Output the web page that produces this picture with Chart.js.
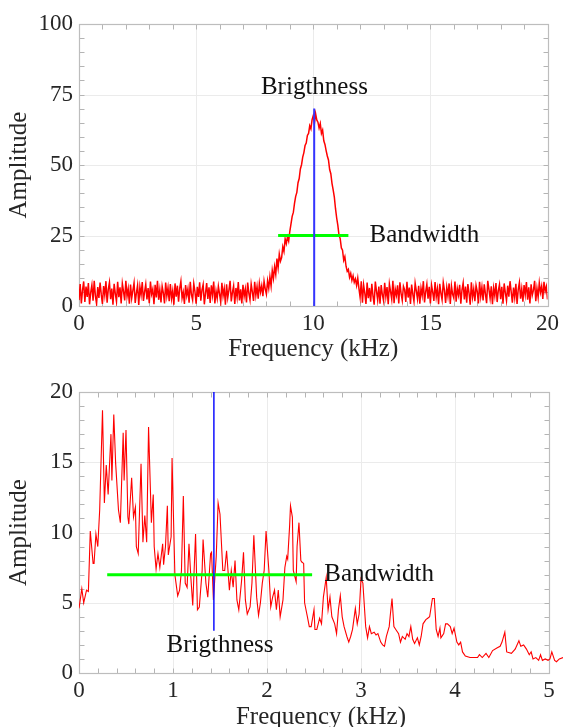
<!DOCTYPE html>
<html><head><meta charset="utf-8">
<script src="https://cdn.jsdelivr.net/npm/chart.js@4.4.1/dist/chart.umd.min.js"></script>
<style>
html,body{margin:0;padding:0;background:#fff;width:563px;height:727px;overflow:hidden;}
#c1{position:absolute;left:0;top:0;}
#c2{position:absolute;left:0;top:365px;}
</style></head><body>
<canvas id="c1" width="563" height="365"></canvas>
<canvas id="c2" width="563" height="380"></canvas>
<script>
// ---------- Top chart data (step 0.05 kHz, 0..20 kHz) ----------
const topStepKHz = 0.05;
const topAmplitude = [
2.1,7.8,0.9,5.6,8.7,1.4,6.9,3.2,8.1,0.6,4.8,7.4,1.9,8.9,3.6,0.8,6.7,2.9,8.3,4.1,
0.7,7.1,3.8,8.8,1.2,5.9,8.4,2.4,6.2,0.5,7.9,4.4,1.6,8.6,3.1,6.6,0.9,8.0,5.2,2.0,
8.9,3.4,6.1,0.8,7.6,2.7,5.5,8.2,1.1,4.6,7.3,0.4,6.8,3.9,8.5,1.8,5.0,7.7,2.3,6.4,
1.0,8.7,4.2,6.0,0.6,7.5,3.0,8.9,2.2,5.8,1.3,7.0,4.7,0.9,8.3,3.5,6.5,1.7,7.8,2.6,
5.4,0.5,8.0,3.3,7.2,1.5,6.3,8.8,2.8,4.9,0.7,7.4,3.7,6.1,1.2,8.6,4.0,2.1,7.9,5.1,
0.8,6.8,3.2,8.4,1.9,5.7,7.6,0.6,4.5,8.1,2.5,6.6,1.1,7.3,3.9,8.7,0.9,5.3,2.7,7.0,
4.3,1.4,8.2,3.6,6.2,0.5,7.7,2.9,5.6,8.9,1.6,4.8,7.1,0.7,6.4,3.1,8.5,2.0,5.9,0.9,
7.5,3.4,6.0,1.3,8.3,4.6,2.2,7.8,5.0,1.8,8.6,3.8,6.9,2.6,8.0,4.9,7.2,3.5,8.8,6.1,
4.2,8.9,6.3,10.4,7.1,12.6,9.8,13.9,11.2,16.8,13.5,18.4,15.9,17.2,21.0,19.3,23.8,22.1,24.5,23.0,
26.5,29.1,31.8,33.2,36.4,38.9,40.3,43.7,45.2,48.6,50.1,52.8,54.4,56.9,57.8,60.5,61.2,63.9,62.8,66.1,
67.5,64.8,68.2,66.0,65.2,63.1,64.7,61.2,62.4,58.6,57.3,55.1,53.2,51.8,48.4,46.9,43.5,41.2,38.6,34.5,
31.2,28.6,25.1,23.9,20.6,19.8,16.2,17.5,14.1,12.3,13.0,10.2,11.6,9.1,10.7,8.4,9.6,7.3,9.9,6.2,
3.1,8.8,1.2,7.5,4.6,0.7,8.3,2.8,6.4,1.5,7.9,3.6,0.5,8.7,5.3,2.1,6.9,0.8,7.4,4.0,
1.9,8.2,3.3,6.7,0.6,7.8,5.1,2.4,8.9,1.0,6.0,3.8,7.3,0.9,8.4,4.4,2.0,7.0,5.8,1.4,
8.6,3.0,6.5,0.7,7.6,4.2,1.6,8.1,5.4,2.5,7.2,0.8,6.3,3.7,8.8,1.3,5.0,7.7,2.6,6.8,
0.9,7.4,4.9,1.8,8.5,3.2,6.1,0.6,7.9,4.5,2.2,8.3,5.6,1.1,6.6,3.5,8.0,0.7,7.1,4.1,
2.8,8.7,1.5,6.2,3.9,7.5,0.8,5.7,8.2,2.3,6.9,1.2,7.8,4.6,0.5,8.4,3.1,6.0,1.7,7.3,
5.2,0.9,8.6,3.4,6.7,2.0,7.7,4.3,1.0,8.9,5.9,2.7,7.0,0.6,6.4,3.6,8.1,1.4,5.5,7.6,
2.4,6.8,0.8,8.0,4.7,1.9,7.2,3.3,8.8,5.0,1.2,6.5,3.0,7.9,0.7,5.8,8.3,2.6,6.1,1.5,
7.4,4.0,8.5,2.2,6.6,0.9,7.7,3.8,5.6,8.9,1.7,6.3,3.1,8.2,4.8,7.0,2.5,8.6,5.2,6.9,2.3
];
const topBrightness = {freq: 10.04, ampLow: 0, ampHigh: 70};
const topBandwidth = {freqLow: 8.5, freqHigh: 11.5, amp: 25};
const topXTicks = [0, 5, 10, 15, 20];
const topYTicks = [0, 25, 50, 75, 100];

// ---------- Bottom chart data ----------
const bottomFreq = [0,0.03,0.05,0.08,0.10,0.12,0.15,0.16,0.18,0.20,0.22,0.25,0.27,0.29,0.31,0.34,0.35,0.37,0.39,0.42,0.44,0.47,0.48,0.50,0.52,0.53,0.56,0.58,0.60,0.61,0.63,0.66,0.68,0.70,0.72,0.74,0.77,0.79,0.80,0.82,0.84,0.86,0.89,0.90,0.92,0.94,0.95,0.98,0.99,1.02,1.05,1.07,1.09,1.11,1.13,1.15,1.17,1.19,1.21,1.24,1.26,1.28,1.31,1.32,1.35,1.37,1.40,1.41,1.43,1.46,1.48,1.50,1.53,1.55,1.57,1.60,1.62,1.64,1.66,1.68,1.70,1.73,1.75,1.77,1.79,1.82,1.84,1.86,1.89,1.91,1.93,1.95,1.97,1.99,2.02,2.04,2.06,2.08,2.10,2.12,2.14,2.17,2.19,2.21,2.22,2.24,2.25,2.27,2.28,2.31,2.32,2.34,2.36,2.37,2.39,2.40,2.43,2.45,2.47,2.50,2.51,2.53,2.56,2.58,2.60,2.63,2.65,2.67,2.69,2.72,2.74,2.76,2.78,2.80,2.82,2.85,2.87,2.89,2.91,2.94,2.96,2.98,3.00,3.02,3.05,3.07,3.09,3.11,3.14,3.16,3.18,3.21,3.23,3.25,3.27,3.30,3.31,3.33,3.35,3.37,3.40,3.42,3.44,3.47,3.49,3.51,3.53,3.55,3.57,3.60,3.62,3.64,3.66,3.69,3.71,3.73,3.76,3.78,3.80,3.82,3.84,3.85,3.88,3.90,3.92,3.95,3.97,3.99,4.02,4.04,4.06,4.08,4.11,4.16,4.24,4.26,4.29,4.33,4.36,4.40,4.45,4.48,4.50,4.53,4.55,4.60,4.64,4.68,4.70,4.73,4.76,4.79,4.81,4.83,4.86,4.89,4.91,4.93,4.96,4.99,5.01,5.03,5.06,5.08,5.11,5.15];
const bottomAmplitude = [4.6,6.0,5.0,5.9,5.8,10.1,7.8,7.8,9.9,9.0,11.6,18.7,12.1,14.8,12.7,17.0,13.7,18.4,14.9,11.6,10.7,17.1,13.7,17.3,11.1,10.6,13.9,11.1,11.8,9.0,8.5,14.9,9.3,11.2,9.3,17.5,10.7,12.7,9.0,7.4,8.5,7.5,9.2,7.7,9.0,11.9,8.4,9.7,15.3,7.0,5.5,5.9,7.3,12.6,6.4,6.1,9.2,6.8,4.8,9.9,4.5,4.7,7.3,9.5,6.4,5.4,8.5,8.6,5.2,8.3,12.1,11.3,7.3,7.3,8.7,5.9,7.3,6.1,8.0,5.2,4.5,6.6,8.6,5.2,4.2,4.7,6.4,9.8,5.4,4.1,5.0,6.4,7.3,10.1,7.3,4.7,5.4,5.9,4.5,5.9,4.0,5.2,7.5,8.3,8.1,10.4,11.9,11.1,7.3,6.5,9.0,10.7,8.0,7.9,7.8,5.0,4.0,3.3,3.3,4.5,3.1,3.1,3.9,3.5,5.4,6.8,4.5,5.4,4.0,3.5,2.8,4.5,5.5,4.0,3.3,2.6,2.2,2.6,3.1,4.6,3.5,4.2,6.7,6.4,3.3,2.5,3.3,2.8,2.9,2.7,2.8,2.2,2.0,1.9,2.6,3.3,4.0,5.3,3.3,3.1,2.8,2.2,2.6,2.4,2.8,2.6,3.3,2.4,2.1,2.5,2.0,2.6,3.5,3.8,3.9,4.0,5.3,5.3,3.1,2.6,3.2,2.5,2.8,3.5,3.5,3.3,2.8,3.2,2.2,2.0,2.2,1.5,1.2,1.1,1.1,1.3,1.1,1.4,1.1,1.6,1.8,1.9,2.2,2.9,1.5,1.4,1.7,2.3,1.9,2.0,1.7,1.3,1.5,1.0,1.1,0.9,1.3,0.9,1.0,0.9,1.0,1.5,0.9,0.8,1.0,1.1];
const bottomBrightness = {freq: 1.435, ampLow: 3.0, ampHigh: 20};
const bottomBandwidth = {freqLow: 0.3, freqHigh: 2.48, amp: 7};
const bottomXTicks = [0, 1, 2, 3, 4, 5];
const bottomYTicks = [0, 5, 10, 15, 20];

const FONT = '"Liberation Serif", "Times New Roman", serif';
const TXT = '#262626';

function range(a, b, s) { const r = []; for (let v = a; v <= b + 1e-9; v += s) r.push(+v.toFixed(4)); return r; }

const framePlugin = {
  id: 'frame',
  beforeDatasetsDraw(chart, args, o) {
    const ctx = chart.ctx, xs = chart.scales.x, ys = chart.scales.y;
    const X = v => Math.round(xs.getPixelForValue(v)) + 0.5;
    const Y = v => Math.round(ys.getPixelForValue(v)) + 0.5;
    const x0 = X(o.xMin), x1 = X(o.xMax), y0 = Y(o.yMax), y1 = Y(o.yMin);
    ctx.save();
    ctx.lineWidth = 1;
    ctx.strokeStyle = '#ebebeb';
    ctx.beginPath();
    o.xMajor.forEach(v => { const p = X(v); ctx.moveTo(p, y0); ctx.lineTo(p, y1); });
    o.yMajor.forEach(v => { const p = Y(v); ctx.moveTo(x0, p); ctx.lineTo(x1, p); });
    ctx.stroke();
    ctx.strokeStyle = '#b4b4b4';
    ctx.beginPath();
    const tl = 5;
    o.xMinor.forEach(v => { const p = X(v); ctx.moveTo(p, y1); ctx.lineTo(p, y1 - tl); ctx.moveTo(p, y0); ctx.lineTo(p, y0 + tl); });
    o.yMinor.forEach(v => { const p = Y(v); ctx.moveTo(x0, p); ctx.lineTo(x0 + tl, p); ctx.moveTo(x1, p); ctx.lineTo(x1 - tl, p); });
    ctx.stroke();
    ctx.strokeStyle = '#bdbdbd';
    ctx.lineWidth = 1.2;
    ctx.strokeRect(x0, y0, x1 - x0, y1 - y0);
    ctx.restore();
  }
};

const notesPlugin = {
  id: 'notes',
  afterDatasetsDraw(chart, args, o) {
    const ctx = chart.ctx, xs = chart.scales.x, ys = chart.scales.y;
    ctx.save();
    ctx.font = '25px ' + FONT;
    ctx.fillStyle = '#111';
    ctx.textBaseline = 'middle';
    o.items.forEach(it => {
      ctx.textAlign = it.align;
      ctx.fillText(it.text, xs.getPixelForValue(it.x), ys.getPixelForValue(it.y));
    });
    ctx.restore();
  }
};

function makeChart(el, cfg) {
  return new Chart(document.getElementById(el), {
    type: 'scatter',
    data: { datasets: [
      { data: cfg.spectrum, showLine: true, borderColor: '#ff0000', borderWidth: cfg.redWidth, pointRadius: 0, order: 3, tension: 0 },
      { data: cfg.green, showLine: true, borderColor: '#00ff00', borderWidth: 3, pointRadius: 0, order: 2 },
      { data: cfg.blue, showLine: true, borderColor: cfg.blueColor, borderWidth: cfg.blueWidth, pointRadius: 0, order: 1 }
    ]},
    options: {
      responsive: false, animation: false, devicePixelRatio: 1,
      layout: { padding: cfg.padding },
      plugins: { legend: { display: false }, tooltip: { enabled: false },
        frame: cfg.frame, notes: { items: cfg.notes } },
      scales: {
        x: {
          type: 'linear', min: cfg.xMin, max: cfg.xMax,
          afterBuildTicks: s => { s.ticks = cfg.xTicks.map(v => ({ value: v })); },
          afterFit: s => { s.height = cfg.xAxisHeight; },
          grid: { display: false, drawTicks: false }, border: { display: false },
          ticks: { color: TXT, font: { family: FONT, size: 23 }, padding: cfg.xTickPad, maxRotation: 0, autoSkip: false, includeBounds: false },
          title: { display: true, text: 'Frequency (kHz)', color: TXT, font: { family: FONT, size: 25 }, padding: { top: 0, bottom: cfg.xTitlePad } }
        },
        y: {
          type: 'linear', min: cfg.yMin, max: cfg.yMax,
          afterBuildTicks: s => { s.ticks = cfg.yTicks.map(v => ({ value: v })); },
          afterFit: s => { s.width = 79; },
          grid: { display: false, drawTicks: false }, border: { display: false },
          ticks: { color: TXT, font: { family: FONT, size: 23 }, padding: 6, autoSkip: false },
          title: { display: true, text: 'Amplitude', color: TXT, font: { family: FONT, size: 25 }, padding: { top: 4, bottom: 0 } }
        }
      }
    },
    plugins: [framePlugin, notesPlugin]
  });
}

makeChart('c1', {
  spectrum: topAmplitude.map((a, i) => ({ x: +(i * topStepKHz).toFixed(3), y: a })),
  green: [{ x: topBandwidth.freqLow, y: topBandwidth.amp }, { x: topBandwidth.freqHigh, y: topBandwidth.amp }],
  blue: [{ x: topBrightness.freq, y: topBrightness.ampLow }, { x: topBrightness.freq, y: topBrightness.ampHigh }],
  blueColor: '#3535ff', blueWidth: 2, redWidth: 1.5,
  padding: { top: 24, right: 14, left: 0, bottom: 0 },
  xMin: 0, xMax: 20, yMin: 0, yMax: 100, xTicks: topXTicks, yTicks: topYTicks,
  xAxisHeight: 59, xTickPad: 4, xTitlePad: 1,
  frame: { xMin: 0, xMax: 20, yMin: 0, yMax: 100, xMajor: topXTicks, yMajor: topYTicks, xMinor: range(0, 20, 1), yMinor: range(0, 100, 5) },
  notes: [
    { text: 'Brigthness', x: 10.05, y: 77.5, align: 'center' },
    { text: 'Bandwidth', x: 12.4, y: 25, align: 'left' }
  ]
});

makeChart('c2', {
  spectrum: bottomFreq.map((f, i) => ({ x: f, y: bottomAmplitude[i] })),
  green: [{ x: bottomBandwidth.freqLow, y: bottomBandwidth.amp }, { x: bottomBandwidth.freqHigh, y: bottomBandwidth.amp }],
  blue: [{ x: bottomBrightness.freq, y: bottomBrightness.ampLow }, { x: bottomBrightness.freq, y: bottomBrightness.ampHigh }],
  blueColor: '#1010ff', blueWidth: 1.5, redWidth: 1.1,
  padding: { top: 27, right: 0, left: 0, bottom: 0 },
  xMin: 0, xMax: 5.149, yMin: 0, yMax: 20, xTicks: bottomXTicks, yTicks: bottomYTicks,
  xAxisHeight: 72, xTickPad: 4, xTitlePad: 13,
  frame: { xMin: 0, xMax: 5, yMin: 0, yMax: 20, xMajor: bottomXTicks, yMajor: bottomYTicks, xMinor: range(0, 5, 0.2), yMinor: range(0, 20, 1) },
  notes: [
    { text: 'Bandwidth', x: 2.61, y: 7, align: 'left' },
    { text: 'Brigthness', x: 1.5, y: 1.93, align: 'center' }
  ]
});
</script></body></html>
